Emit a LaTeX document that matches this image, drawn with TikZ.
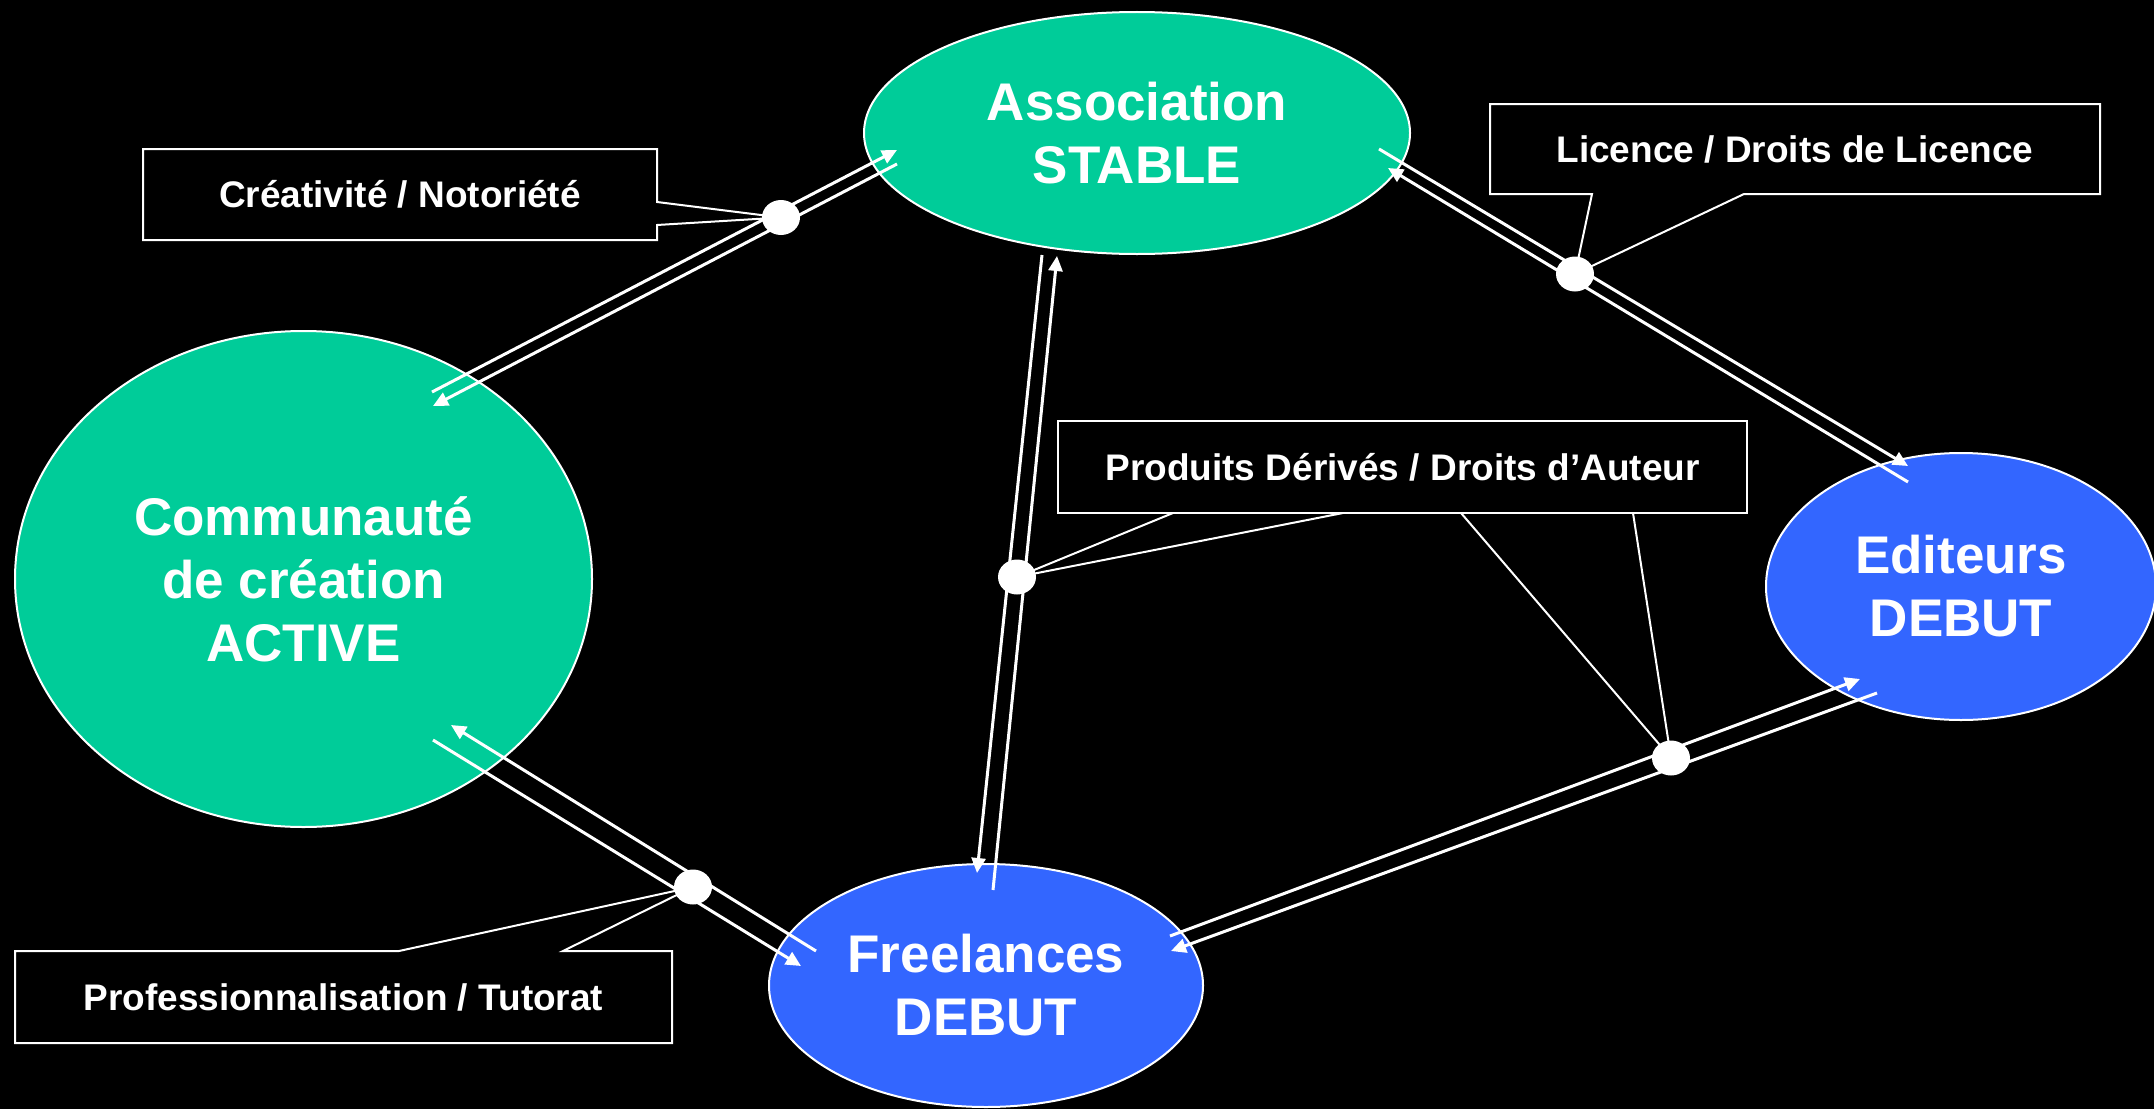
\documentclass[tikz,border=0pt]{standalone}
\usepackage{fontspec}
\setmainfont{Liberation Sans}
\usetikzlibrary{shapes.geometric,arrows.meta,calc}
\definecolor{actgreen}{RGB}{0,204,153}
\definecolor{startblue}{RGB}{51,102,255}
\pgfdeclarelayer{front}
\pgfsetlayers{main,front}
\begin{document}
\begin{tikzpicture}[x=1pt,y=-1pt,
  stage/.style={ellipse, draw=white, line width=2pt, inner sep=0pt, outer sep=0pt,
    text=white, align=center, font=\fontsize{53}{63}\selectfont\bfseries},
  labelbox/.style={rectangle, inner sep=0pt, outer sep=0pt, text=white,
    font=\fontsize{37}{44}\selectfont\bfseries},
  boxline/.style={draw=white, line width=2pt},
  flow/.style={draw=white, line width=3pt, -{Triangle[length=15pt,width=14pt]}},
  pointer/.style={draw=white, line width=2pt},
  knot/.style={ellipse, fill=white, minimum width=38pt, minimum height=35pt, inner sep=0pt}
]
\useasboundingbox (0,0) rectangle (2154,1108);
% background, a little larger than the page so no edge shows
\fill[black] (-6,-6) rectangle (2160,1114);

% the four actors
\node[stage, fill=actgreen, minimum width=546pt, minimum height=242pt] (assoc) at (1137,133) {Association\\STABLE};
\node[stage, fill=actgreen, minimum width=577pt, minimum height=496pt] (comm) at (303.5,579) {Communauté\\de création\\ACTIVE};
\node[stage, fill=startblue, minimum width=390pt, minimum height=267pt] (edit) at (1961,586.5) {Editeurs\\DEBUT};
\node[stage, fill=startblue, minimum width=434pt, minimum height=243pt] (free) at (986,985.5) {Freelances\\DEBUT};

% exchange knots, kept above the flows
\begin{pgfonlayer}{front}
\node[knot] (k1) at (781,217.5) {};
\node[knot] (k2) at (1575,274) {};
\node[knot] (k3) at (1017,577) {};
\node[knot] (k4) at (1671,758) {};
\node[knot] (k5) at (693,887) {};
\end{pgfonlayer}

% flow end points
\coordinate (ca1) at (432,392);  \coordinate (aa1) at (897,150);
\coordinate (aa2) at (897,164);  \coordinate (ca2) at (433,406);
\coordinate (ae1) at (1379,149); \coordinate (ea1) at (1908,466);
\coordinate (ea2) at (1908,482); \coordinate (ae2) at (1388,168);
\coordinate (af1) at (1042,255); \coordinate (fa1) at (977,873);
\coordinate (fa2) at (993,890);  \coordinate (af2) at (1057,256);
\coordinate (fc1) at (816,951);  \coordinate (cf1) at (451,725);
\coordinate (cf2) at (433,740);  \coordinate (fc2) at (801,966);
\coordinate (fe1) at (1170,936); \coordinate (ef1) at (1860,679);
\coordinate (ef2) at (1877,693); \coordinate (fe2) at (1171,951);

% two-way flows
\draw[flow] (ca1) -- (aa1);
\draw[flow] (aa2) -- (ca2);
\draw[flow] (ae1) -- (ea1);
\draw[flow] (ea2) -- (ae2);
\draw[flow] (af1) -- (fa1);
\draw[flow] (fa2) -- (af2);
\draw[flow] (fc1) -- (cf1);
\draw[flow] (cf2) -- (fc2);
\draw[flow] (fe1) -- (ef1);
\draw[flow] (ef2) -- (fe2);

% labels
\node[labelbox, minimum width=514pt, minimum height=91pt] (creat) at (400,194.5) {Créativité / Notoriété};
\node[labelbox, minimum width=610pt, minimum height=90pt] (lic) at (1795,149) {Licence / Droits de Licence};
\node[labelbox, draw=white, line width=2pt, minimum width=689pt, minimum height=92pt] (prod) at (1402.5,467) {Produits Dérivés / Droits d’Auteur};
\node[labelbox, minimum width=657pt, minimum height=92pt] (prof) at (343.5,997) {Professionnalisation / Tutorat};

% callout outlines
\draw[boxline] ($(creat.north east)+(0,53)$) -- (k1.center) -- ($(creat.north east)+(0,76)$)
  |- (creat.south west) |- (creat.north east) -- cycle;
\draw[boxline] ($(lic.south west)+(102,0)$) -- (k2.center) -- ($(lic.south west)+(254,0)$)
  -| (lic.north east) -| (lic.south west) -- cycle;
\draw[boxline] ($(prof.north west)+(384,0)$) -- (k5.center) -- ($(prof.north west)+(548,0)$)
  -| (prof.south east) -| (prof.north west) -- cycle;
\draw[pointer] ($(prod.south west)+(115,0)$) -- (k3.center) -- ($(prod.south west)+(285,0)$);
\draw[pointer] ($(prod.south west)+(403,0)$) -- (k4.center) -- ($(prod.south west)+(575,0)$);
\end{tikzpicture}
\end{document}
